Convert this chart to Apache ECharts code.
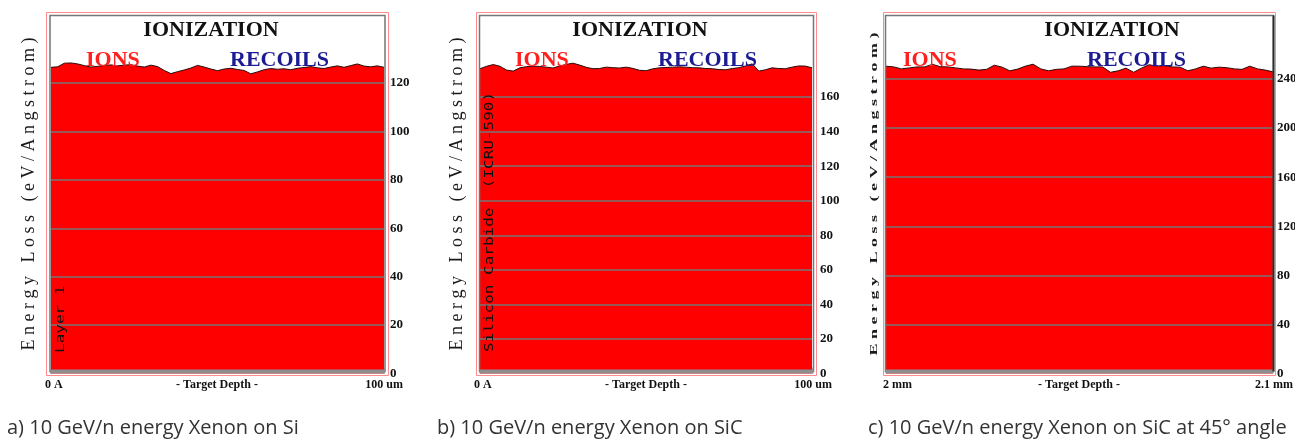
<!DOCTYPE html>
<html>
<head>
<meta charset="utf-8">
<script src="https://cdn.jsdelivr.net/npm/echarts@6/dist/echarts.min.js"></script>
<style>
  html, body { margin: 0; padding: 0; background: #ffffff; }
  #chart { width: 1304px; height: 439px; }
</style>
</head>
<body>
<div id="chart"></div>
<script>
// Electronic energy loss (ionization) vs. target depth, three SRIM runs.

// Depth bins (um) for the two 100 um runs
const depthAB = [0, 2, 4, 6, 8, 10, 12, 14, 16, 18, 20, 22, 24, 26, 28, 30, 32, 34, 36, 38, 40,
  42, 44, 46, 48, 50, 52, 54, 56, 58, 60, 62, 64, 66, 68, 70, 72, 74, 76, 78, 80,
  82, 84, 86, 88, 90, 92, 94, 96, 98, 100];
// Depth bins (mm) for the tilted run
const depthC = [2.000, 2.002, 2.004, 2.006, 2.008, 2.010, 2.012, 2.014, 2.016, 2.018, 2.020,
  2.022, 2.024, 2.026, 2.028, 2.030, 2.032, 2.034, 2.036, 2.038, 2.040,
  2.042, 2.044, 2.046, 2.048, 2.050, 2.052, 2.054, 2.056, 2.058, 2.060,
  2.062, 2.064, 2.066, 2.068, 2.070, 2.072, 2.074, 2.076, 2.078, 2.080,
  2.082, 2.084, 2.086, 2.088, 2.090, 2.092, 2.094, 2.096, 2.098, 2.100];

// Energy loss (eV/Angstrom)
const lossSi = [126.5, 126.7, 128.2, 128.3, 127.9, 127.2, 126.6, 126.9, 127.3, 127.5, 127.1,
  127.4, 127.6, 127.0, 126.6, 127.4, 126.8, 125.2, 123.9, 124.7, 125.4,
  126.2, 127.3, 126.6, 125.8, 125.1, 125.8, 126.1, 125.6, 125.2, 123.8,
  124.6, 125.5, 126.0, 125.7, 125.9, 125.5, 126.1, 126.4, 126.8, 126.3,
  126.0, 126.6, 127.1, 126.5, 127.2, 127.9, 127.0, 126.7, 127.1, 126.5];
const lossSiC = [176.4, 177.8, 178.8, 177.8, 175.6, 175.0, 176.9, 177.6, 177.9, 177.7, 177.3,
  176.8, 178.0, 178.9, 179.6, 178.5, 177.2, 176.4, 176.5, 177.3, 177.0,
  176.8, 177.3, 176.6, 175.5, 175.2, 176.3, 176.9, 177.1, 177.3, 177.5,
  177.3, 177.0, 176.9, 176.5, 176.4, 175.9, 175.8, 176.5, 177.0, 178.0,
  179.2, 175.0, 175.8, 176.9, 176.5, 176.4, 177.3, 178.0, 177.9, 176.9];
const lossSiC45 = [250.5, 249.9, 248.3, 249.1, 249.9, 249.9, 252.0, 250.1, 249.9, 249.1, 248.3,
  248.1, 247.3, 247.9, 251.3, 249.7, 246.7, 248.1, 250.5, 252.1, 248.3,
  246.7, 247.9, 248.3, 250.5, 250.5, 250.1, 249.9, 249.9, 245.5, 246.7,
  248.9, 245.5, 248.9, 251.7, 250.5, 250.9, 249.9, 249.7, 246.7, 248.3,
  250.5, 248.9, 249.7, 249.3, 248.3, 247.9, 250.5, 248.3, 247.3, 245.9];

// Y tick labels (gridlines at the same values)
const yTicksSi = [0, 20, 40, 60, 80, 100, 120];
const yTicksSiC = [0, 20, 40, 60, 80, 100, 120, 140, 160];
const yTicksSiC45 = [0, 40, 80, 120, 160, 200, 240];

// Text
const plotTitle = 'IONIZATION';
const legendIons = 'IONS';
const legendRecoils = 'RECOILS';
const yTitle = 'E n e r g y   L o s s   ( e V / A n g s t r o m )';
const depthLabelsSi = ['0 A', '- Target Depth -', '100 um'];
const depthLabelsSiC = ['0 A', '- Target Depth -', '100 um'];
const depthLabelsSiC45 = ['2 mm', '- Target Depth -', '2.1 mm'];
const layerSi = 'Layer 1';
const layerSiC = 'Silicon Carbide  (ICRU-590)';
const captions = [
  'a) 10 GeV/n energy Xenon on Si',
  'b) 10 GeV/n energy Xenon on SiC',
  'c) 10 GeV/n energy Xenon on SiC at 45\u00B0 angle'
];

// Panel layout (pixels) and scales
const panels = [
  { depth: depthAB, loss: lossSi, ticks: yTicksSi, xMin: 0, xMax: 100, xInt: 10, xTicks: true,
    yMax: 147.7, left: 51, right: 384, labelMargin: 6,
    pink: [46.5, 12.5, 388.5, 375.5], gray: [50, 15.5, 385, 371.5], rightDark: false,
    titleX: 211, ionsX: 86, recoilsX: 230, yTitleX: 29, yTitleScale: 1, yTitleBold: false,
    layer: layerSi, layerX: 61, layerY: 353,
    depthLabels: depthLabelsSi, dlX: [45, 217, 403], capX: 7 },
  { depth: depthAB, loss: lossSiC, ticks: yTicksSiC, xMin: 0, xMax: 100, xInt: 10, xTicks: true,
    yMax: 206.9, left: 480, right: 812, labelMargin: 8,
    pink: [476.5, 12.5, 816.5, 375.5], gray: [479.5, 15.5, 813.5, 371.5], rightDark: false,
    titleX: 640, ionsX: 515, recoilsX: 658, yTitleX: 457, yTitleScale: 1, yTitleBold: false,
    layer: layerSiC, layerX: 490, layerY: 352,
    depthLabels: depthLabelsSiC, dlX: [474, 646, 832], capX: 437 },
  { depth: depthC, loss: lossSiC45, ticks: yTicksSiC45, xMin: 2.0, xMax: 2.1, xInt: 0.01, xTicks: false,
    yMax: 291.4, left: 886, right: 1273, labelMargin: 4,
    pink: [883.5, 12.5, 1275.5, 375.5], gray: [885.5, 15.5, 1273.5, 371.5], rightDark: true,
    titleX: 1112, ionsX: 903, recoilsX: 1087, yTitleX: 874, yTitleScale: 0.55, yTitleBold: true,
    layer: null,
    depthLabels: depthLabelsSiC45, dlX: [883, 1079, 1293], capX: 868 }
];

const W = 1304, H = 439;
const zeroY = 373.5, topY = 16;
const serif = '"Liberation Serif", "Times New Roman", serif';

const grids = [], xAxes = [], yAxes = [], series = [], graphics = [];

panels.forEach((p, i) => {
  grids.push({ left: p.left, right: W - p.right, top: topY, bottom: H - zeroY,
               containLabel: false, outerBoundsMode: 'none' });
  xAxes.push({
    gridIndex: i, type: 'value', min: p.xMin, max: p.xMax, interval: p.xInt,
    axisLine: { show: false }, axisLabel: { show: false }, splitLine: { show: false },
    axisTick: { show: p.xTicks, inside: true, length: 6, lineStyle: { color: '#b8b8b8', width: 1 } }
  });
  yAxes.push({
    gridIndex: i, type: 'value', position: 'right', min: 0, max: p.yMax,
    splitLine: { show: false }, axisLine: { show: false }, axisTick: { show: false },
    axisLabel: {
      customValues: p.ticks, margin: p.labelMargin, color: '#111',
      fontFamily: serif, fontWeight: 'bold', fontSize: 13, padding: [0, 0, 6, 0]
    }
  });
  series.push({
    type: 'line', xAxisIndex: i, yAxisIndex: i,
    data: p.depth.map((d, k) => [d, p.loss[k]]),
    showSymbol: false, symbol: 'none', smooth: false,
    lineStyle: { color: '#2a0a0a', width: 1 },
    areaStyle: { color: '#ff0000', opacity: 1 },
    markLine: {
      silent: true, symbol: ['none', 'none'], label: { show: false },
      lineStyle: { color: '#767676', width: 1.5, type: 'solid', opacity: 1 },
      data: p.ticks.filter(v => v > 0).map(v => ({ yAxis: v }))
    }
  });

  // frame: outer pink, inner gray, thick gray base
  const pk = p.pink, gr = p.gray;
  graphics.push({ type: 'rect', z: 100, silent: true,
    shape: { x: pk[0], y: pk[1], width: pk[2] - pk[0], height: pk[3] - pk[1] },
    style: { fill: 'none', stroke: '#ff8c8c', lineWidth: 1 } });
  graphics.push({ type: 'rect', z: 100, silent: true,
    shape: { x: gr[0], y: gr[1], width: gr[2] - gr[0], height: gr[3] - gr[1] },
    style: { fill: 'none', stroke: '#767676', lineWidth: 1.5 } });
  graphics.push({ type: 'line', z: 101, silent: true,
    shape: { x1: gr[0], y1: gr[3], x2: gr[2], y2: gr[3] },
    style: { stroke: '#8e8e8e', lineWidth: 4 } });
  if (p.rightDark) {
    graphics.push({ type: 'line', z: 101, silent: true,
      shape: { x1: gr[2], y1: gr[1], x2: gr[2], y2: gr[3] },
      style: { stroke: '#2c2c2c', lineWidth: 2 } });
  }

  // header texts
  graphics.push({ type: 'text', z: 110, silent: true, x: p.titleX, y: 30,
    style: { text: plotTitle, font: 'bold 22px ' + serif, fill: '#111',
             textAlign: 'center', textVerticalAlign: 'middle' } });
  graphics.push({ type: 'text', z: 110, silent: true, x: p.ionsX, y: 60,
    style: { text: legendIons, font: 'bold 22px ' + serif, fill: '#ff2020',
             textAlign: 'left', textVerticalAlign: 'middle' } });
  graphics.push({ type: 'text', z: 110, silent: true, x: p.recoilsX, y: 60,
    style: { text: legendRecoils, font: 'bold 22px ' + serif, fill: '#1c1c92',
             textAlign: 'left', textVerticalAlign: 'middle' } });

  // vertical axis title
  graphics.push({ type: 'text', z: 110, silent: true, x: p.yTitleX, y: 194,
    rotation: Math.PI / 2, scaleY: p.yTitleScale,
    style: { text: yTitle, font: (p.yTitleBold ? 'bold ' : '') + '18px ' + serif, fill: '#1a1a1a',
             textAlign: 'center', textVerticalAlign: 'middle' } });

  // layer name
  if (p.layer) {
    graphics.push({ type: 'text', z: 110, silent: true, x: p.layerX, y: p.layerY,
      rotation: Math.PI / 2, scaleY: 0.75,
      style: { text: p.layer, font: '16px "DejaVu Sans Mono", monospace', fill: '#111',
               textAlign: 'left', textVerticalAlign: 'middle' } });
  }

  // depth labels under the frame
  const aligns = ['left', 'center', 'right'];
  p.depthLabels.forEach((t, k) => {
    graphics.push({ type: 'text', z: 110, silent: true, x: p.dlX[k], y: 385,
      style: { text: t, font: 'bold 12px ' + serif, fill: '#111',
               textAlign: aligns[k], textVerticalAlign: 'middle' } });
  });

  // caption
  graphics.push({ type: 'text', z: 110, silent: true, x: p.capX, y: 428,
    style: { text: captions[i], font: '20px "Open Sans", sans-serif', fill: '#333',
             textAlign: 'left', textVerticalAlign: 'middle' } });
});

// right edge of the last plot image is cut off
graphics.push({ type: 'rect', z: 120, silent: true,
  shape: { x: 1295, y: 0, width: 9, height: 400 }, style: { fill: '#ffffff' } });

const chart = echarts.init(document.getElementById('chart'), null, { renderer: 'canvas' });
chart.setOption({
  animation: false,
  backgroundColor: '#ffffff',
  grid: grids,
  xAxis: xAxes,
  yAxis: yAxes,
  series: series,
  graphic: { elements: graphics }
});
</script>
</body>
</html>
